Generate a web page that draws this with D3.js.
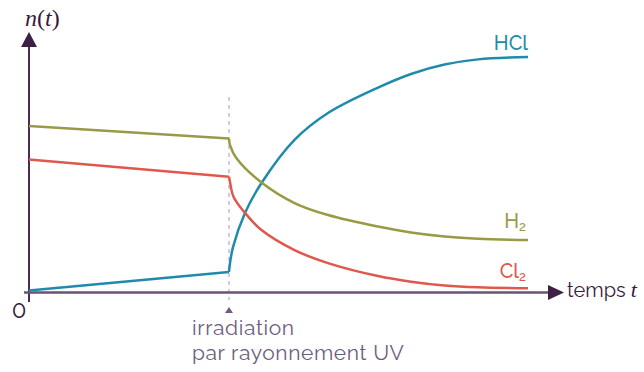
<!DOCTYPE html>
<html>
<head>
<meta charset="utf-8">
<script src="https://cdn.jsdelivr.net/npm/d3@7"></script>
<style>
  body { margin: 0; background: #fff; }
  text { font-family: Raleway, "Open Sans", Lato, sans-serif; }
</style>
</head>
<body>
<svg id="chart" width="644" height="372"></svg>
<script>
// time of UV irradiation
var tUV = 4;

// [t, n(t)]
var h2Data = [[0, 7.07], [4, 6.54], [4.02, 6.26], [4.15, 5.70], [4.65, 4.67], [5.31, 3.80],
  [5.98, 3.29], [6.98, 2.80], [7.64, 2.55], [8.31, 2.38], [8.98, 2.28], [9.98, 2.23]];
var cl2Data = [[0, 5.65], [4, 4.92], [4.02, 4.69], [4.09, 4.07], [4.32, 3.38], [4.65, 2.65],
  [5.31, 1.80], [5.98, 1.25], [6.98, 0.70], [7.64, 0.46], [8.31, 0.30], [8.98, 0.22], [9.98, 0.18]];
var hclData = [[0, 0.09], [4, 0.87], [4.02, 1.25], [4.08, 1.93], [4.32, 3.38], [4.65, 4.65],
  [5.31, 6.48], [5.98, 7.62], [6.98, 8.70], [7.64, 9.28], [8.31, 9.68], [8.98, 9.90], [9.98, 10.0]];

var series = [
  {name: "HCl", sub: "", data: hclData, color: "#1f8bab"},
  {name: "H", sub: "2", data: h2Data, color: "#999a45"},
  {name: "Cl", sub: "2", data: cl2Data, color: "#e0584c"}
];

var svg = d3.select("#chart"),
    axisColor = "#4a2c50";

var x = d3.scaleLinear().domain([0, 10.68]).range([29, 563]),
    y = d3.scaleLinear().domain([0, 11.02]).range([292.5, 33]);

var line = d3.line()
    .x(function(d) { return x(d[0]); })
    .y(function(d) { return y(d[1]); });

var curve = d3.line()
    .curve(d3.curveCatmullRom.alpha(0.5))
    .x(function(d) { return x(d[0]); })
    .y(function(d) { return y(d[1]); });

// dashed marker for irradiation
svg.append("line")
    .attr("x1", x(tUV)).attr("x2", x(tUV))
    .attr("y1", 97).attr("y2", 300)
    .attr("stroke", "#d2cbdf")
    .attr("stroke-width", 2)
    .attr("stroke-dasharray", "4,4");

svg.append("path")
    .attr("d", d3.line()([[x(tUV), 307], [x(tUV) - 4, 313], [x(tUV) + 4, 313]]) + "Z")
    .attr("fill", "#6d5c80");

// axes
svg.append("line")
    .attr("x1", x(0)).attr("x2", x(0))
    .attr("y1", 46).attr("y2", 302)
    .attr("stroke", axisColor).attr("stroke-width", 2);

svg.append("line")
    .attr("x1", 24).attr("x2", 549)
    .attr("y1", y(0)).attr("y2", y(0))
    .attr("stroke", "#6a5275").attr("stroke-width", 2.5);

svg.append("path")
    .attr("d", d3.line()([[x(0), 32], [x(0) - 8, 47], [x(0) + 8, 47]]) + "Z")
    .attr("fill", "#3e1f46");

svg.append("path")
    .attr("d", d3.line()([[564, y(0)], [548, y(0) - 7.5], [548, y(0) + 7.5]]) + "Z")
    .attr("fill", "#3e1f46");

// curves: straight before irradiation, smooth after
series.forEach(function(s) {
  var before = s.data.filter(function(d) { return d[0] <= tUV; }),
      after  = s.data.filter(function(d) { return d[0] >= tUV; });
  svg.append("path")
      .attr("d", line(before))
      .attr("fill", "none")
      .attr("stroke", s.color)
      .attr("stroke-width", 2.5);
  svg.append("path")
      .attr("d", curve(after))
      .attr("fill", "none")
      .attr("stroke", s.color)
      .attr("stroke-width", 2.5);
});

// series labels
var labelPos = {"HCl": [528, 50], "H": [528, 228], "Cl": [528, 278]};
series.forEach(function(s) {
  var p = labelPos[s.name];
  svg.append("text")
      .attr("x", s.sub ? p[0] - 9 : p[0]).attr("y", p[1])
      .attr("text-anchor", "end")
      .attr("fill", s.color)
      .style("font-size", "20px")
      .style("font-weight", 500)
      .text(s.name);
  if (s.sub) {
    svg.append("text")
        .attr("x", p[0] - 9).attr("y", p[1] + 3)
        .attr("fill", s.color)
        .style("font-size", "13px")
        .style("font-weight", 500)
        .text(s.sub);
  }
});

// axis labels
var nt = svg.append("text")
    .attr("x", 25).attr("y", 26)
    .attr("fill", "#3a1a40")
    .style("font-family", "'Liberation Serif', serif")
    .style("font-size", "24px");
nt.append("tspan").style("font-style", "italic").text("n");
nt.append("tspan").text("(");
nt.append("tspan").style("font-style", "italic").text("t");
nt.append("tspan").text(")");

var tt = svg.append("text")
    .attr("x", 567).attr("y", 297)
    .attr("fill", "#3a1a40")
    .style("font-size", "20px");
tt.append("tspan").text("temps ");
tt.append("tspan").style("font-family", "'Liberation Serif', serif")
    .style("font-style", "italic").style("font-size", "22px").text("t");

svg.append("text")
    .attr("x", 19).attr("y", 318)
    .attr("text-anchor", "middle")
    .attr("fill", "#3a1a40")
    .style("font-size", "24px")
    .text("0");

svg.append("text")
    .attr("x", 192).attr("y", 335)
    .attr("fill", "#6d5c80")
    .style("font-size", "21px")
    .style("letter-spacing", "0.6px")
    .text("irradiation");

svg.append("text")
    .attr("x", 192).attr("y", 360)
    .attr("fill", "#6d5c80")
    .style("font-size", "21px")
    .style("letter-spacing", "0.6px")
    .text("par rayonnement UV");
</script>
</body>
</html>
